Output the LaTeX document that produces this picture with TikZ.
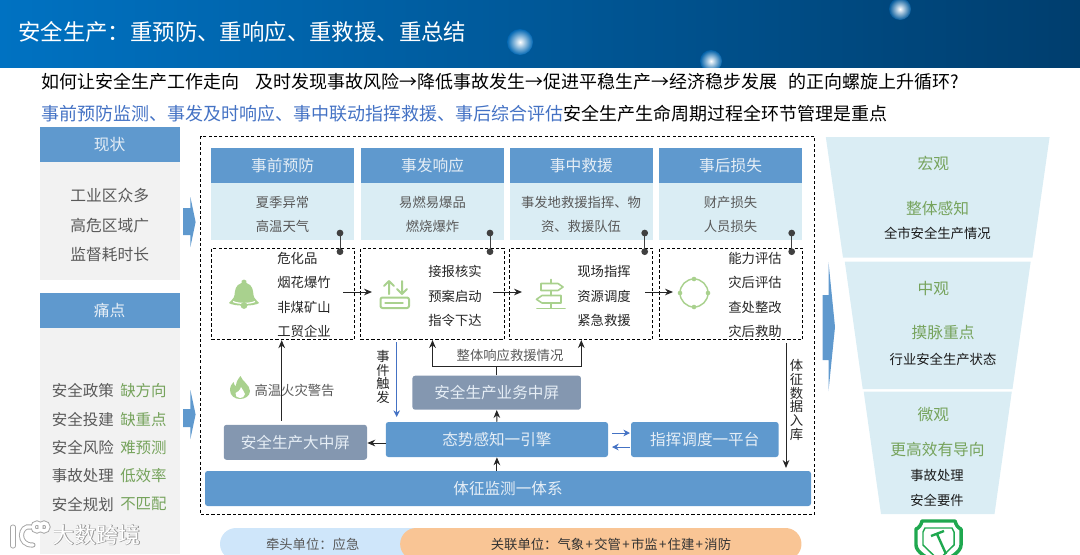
\documentclass[tikz,border=0pt]{standalone}
\usepackage{fontspec}
\setmainfont{Noto Sans CJK SC}
\newfontfamily\wmbold[FakeBold=2.5]{Noto Sans CJK SC}
\usepackage{xcolor}
\usetikzlibrary{arrows.meta, calc}
\definecolor{hdleft}{HTML}{0072C2}
\definecolor{hdmid}{HTML}{0066B2}
\definecolor{hdright}{HTML}{003E6E}
\definecolor{headblue}{HTML}{5F99CE}
\definecolor{palecyan}{HTML}{DAEDF4}
\definecolor{panelgray}{HTML}{F2F2F2}
\definecolor{screengray}{HTML}{8497B0}
\definecolor{softwhite}{HTML}{E6EEF6}
\definecolor{textgray}{HTML}{595959}
\definecolor{leafgreen}{HTML}{76A35C}
\definecolor{icongreen}{HTML}{A9D18E}
\definecolor{linkblue}{HTML}{4472C4}
\definecolor{pillblue}{HTML}{CFE6FA}
\definecolor{pillorange}{HTML}{F9C595}
\definecolor{shieldgreen}{HTML}{1FA84F}
\newcommand{\widecolon}{\char"FF1A\relax}
\begin{document}
\begin{tikzpicture}[
    x=0.75pt, y=-0.75pt,
    headtitle/.style={anchor=west, inner sep=0pt, text=white, font=\fontsize{16.8}{20}\selectfont},
    leadline/.style={anchor=west, inner sep=0pt, font=\fontsize{13.5}{16}\selectfont},
    panelhead/.style={rectangle, fill=headblue, inner sep=0pt, minimum width=105.2pt, minimum height=26.25pt, text=softwhite, font=\fontsize{11.8}{14}\selectfont},
    panelbody/.style={rectangle, fill=panelgray, inner sep=0pt, minimum width=105.2pt},
    colhead/.style={rectangle, fill=headblue, inner sep=0pt, minimum width=107.6pt, minimum height=26pt, text=softwhite, font=\fontsize{11.8}{14}\selectfont},
    colbody/.style={rectangle, fill=palecyan, inner sep=0pt, minimum width=107.6pt, minimum height=43pt},
    dashbox/.style={rectangle, draw, dashed, line width=0.75pt, dash pattern=on 2.4pt off 1.6pt, inner sep=0pt, minimum width=107.6pt, minimum height=68.5pt},
    screenbox/.style={rectangle, rounded corners=2pt, inner sep=0pt, minimum height=26.25pt, text=softwhite, font=\fontsize{11.7}{14}\selectfont},
    linetext/.style={inner sep=0pt, align=center, text=textgray, font=\fontsize{10}{18.5}\selectfont},
    steptext/.style={inner sep=0pt, align=left, text=black!85, font=\fontsize{10}{18.4}\selectfont},
    upright/.style={inner sep=0pt, align=center, text=black!85, font=\fontsize{10}{10.4}\selectfont},
    smalltext/.style={inner sep=0pt, text=textgray, font=\fontsize{10}{12}\selectfont},
    plaintext/.style={inner sep=0pt, text=black!90, font=\fontsize{10}{18.7}\selectfont, align=center},
    greentext/.style={inner sep=0pt, text=leafgreen, font=\fontsize{11.8}{14}\selectfont},
    graytext/.style={inner sep=0pt, align=center, text=textgray, font=\fontsize{11.8}{21.8}\selectfont},
    paintext/.style={inner sep=0pt, anchor=west, align=left, font=\fontsize{11.6}{21.2}\selectfont},
    arrow/.style={-{Stealth[length=6pt, width=5pt]}, line width=0.75pt, black!85},
    bluearrow/.style={-{Stealth[length=5pt, width=5pt]}, line width=0.75pt, linkblue},
    pinline/.style={{Circle[length=5pt]}-{Circle[length=5pt]}, line width=0.75pt, black!75},
    iconline/.style={draw=icongreen, line width=1.5pt, line cap=round, line join=round},
    logoback/.style={draw=gray!70, line width=3.8pt, line cap=round},
    logofront/.style={draw=white, line width=2.4pt, line cap=round},
]
\useasboundingbox (0,0) rectangle (1080,554);

\begin{scope}
\clip (0,0) rectangle (1080,67);
\shade[left color=hdleft, middle color=hdmid, right color=hdright] (0,0) rectangle (1080,67);
\shade[inner color=white, outer color=hdmid] (520,42) circle (13);
\shade[inner color=white, outer color=hdmid!85!hdright] (711,61) circle (11);
\shade[inner color=white, outer color=hdmid!65!hdright] (900,9) circle (11);
\end{scope}
\node[headtitle] (head) at (18,32) {安全生产\widecolon 重预防、重响应、重救援、重总结};
\node[leadline] (quest) at (41.3,82) {如何让安全生产工作走向\hspace{12pt}及时发现事故风险→降低事故发生→促进平稳生产→经济稳步发展\hspace{8pt}的正向螺旋上升循环?};
\node[leadline] (focus) at (41.3,114) {\textcolor{linkblue}{事前预防监测、事发及时响应、事中联动指挥救援、事后综合评估}安全生产生命周期过程全环节管理是重点};

\node[panelhead] (now) at (109.7,144.5) {现状};
\node[panelbody, minimum height=88.5pt] (nowbody) at (109.7,221) {};
\node[graytext] (nowtext) at (109.7,225) {工业区众多\\高危区域广\\监督耗时长};
\node[panelhead] (ache) at (109.7,310.5) {痛点};
\node[panelbody, minimum height=169.5pt] (achebody) at (109.7,441) {};
\node[paintext, text=textgray] (achel) at (51.6,447.5) {安全政策\\安全投建\\安全风险\\事故处理\\安全规划};
\node[paintext, text=leafgreen] (acher) at (120,447.5) {缺方向\\缺重点\\难预测\\低效率\\不匹配};

\fill[headblue] (183,208) -- (190.4,208) -- (190.4,197) -- (195.6,222) -- (190.4,247) -- (190.4,235) -- (183,235) -- cycle;
\fill[headblue] (183,409) -- (190.4,409) -- (190.4,390) -- (195.6,414.5) -- (190.4,439) -- (190.4,427) -- (183,427) -- cycle;
\fill[headblue] (822.5,295) -- (828.5,295) -- (828.5,262) -- (835,327) -- (828.5,391) -- (828.5,360) -- (822.5,360) -- cycle;

\node[rectangle, draw, dashed, line width=0.75pt, dash pattern=on 2.4pt off 1.6pt, inner sep=0pt, minimum width=460.5pt, minimum height=283.2pt] (outer) at (507.8,325.3) {};

\node[colhead] (pre) at (282.7,165.3) {事前预防};
\node[colhead] (fire) at (432.7,165.3) {事发响应};
\node[colhead] (aid) at (581.3,165.3) {事中救援};
\node[colhead] (loss) at (730.7,165.3) {事后损失};
\node[colbody] (prebody) at (282.7,211.3) {};
\node[colbody] (firebody) at (432.7,211.3) {};
\node[colbody] (aidbody) at (581.3,211.3) {};
\node[colbody] (lossbody) at (730.7,211.3) {};
\node[linetext] (pretext) at (282.5,214.4) {夏季异常\\高温天气};
\node[linetext] (firetext) at (432.5,214.4) {易燃易爆品\\燃烧爆炸};
\node[linetext] (aidtext) at (581,214.4) {事发地救援指挥、物\\资、救援队伍};
\node[linetext] (losstext) at (730.5,214.4) {财产损失\\人员损失};

\node[dashbox] (step1) at (283.2,294) {};
\node[dashbox] (step2) at (432.5,294) {};
\node[dashbox] (step3) at (581,294) {};
\node[dashbox] (step4) at (731.2,294) {};
\node[steptext] (step1text) at (304,295) {危化品\\烟花爆竹\\非煤矿山\\工贸企业};
\node[steptext] (step2text) at (455,296) {接报核实\\预案启动\\指令下达};
\node[steptext] (step3text) at (604,296) {现场指挥\\资源调度\\紧急救援};
\node[steptext] (step4text) at (755,295) {能力评估\\灾后评估\\查处整改\\灾后救助};

\coordinate (pin1a) at (340,229.7);
\coordinate (pin1b) at (340,255);
\coordinate (pin2a) at (490,229.7);
\coordinate (pin2b) at (490,255);
\coordinate (pin3a) at (644.7,229.7);
\coordinate (pin3b) at (644.7,255);
\coordinate (pin4a) at (791.7,229.7);
\coordinate (pin4b) at (791.7,255);
\draw[pinline] (pin1a) -- (pin1b);
\draw[pinline] (pin2a) -- (pin2b);
\draw[pinline] (pin3a) -- (pin3b);
\draw[pinline] (pin4a) -- (pin4b);

\coordinate (go1a) at (343,292);
\coordinate (go1b) at (372,292);
\coordinate (go2a) at (493,292);
\coordinate (go2b) at (522,292);
\coordinate (go3a) at (645,292);
\coordinate (go3b) at (673,292);
\draw[arrow] (go1a) -- (go1b);
\draw[arrow] (go2a) -- (go2b);
\draw[arrow] (go3a) -- (go3b);

\fill[icongreen] (244,279.5) .. controls (241.5,279.5) and (241,281.5) .. (241.5,283) .. controls (235,285) and (235,291) .. (234.5,295) .. controls (234,299) and (231,300) .. (229,303) .. controls (233,306.5) and (255,306.5) .. (259,303) .. controls (257,300) and (254,299) .. (253.5,295) .. controls (253,291) and (253,285) .. (246.5,283) .. controls (247,281.5) and (246.5,279.5) .. (244,279.5) -- cycle;
\draw[white, line width=0.9pt] (233,301.5) .. controls (238,304) and (250,304) .. (255,301.5);
\fill[icongreen] (244,305.5) circle (3.4);

\draw[iconline, rounded corners=1.5pt] (380.5,297.5) rectangle (409,308);
\draw[iconline, line width=1pt] (385,303) -- (403,303);
\draw[iconline] (389,294) -- (389,281) (384,286) -- (389,281) -- (394,286);
\draw[iconline] (402,281) -- (402,294) (397,289) -- (402,294) -- (407,289);

\draw[iconline, line width=1.2pt] (551,279.5) -- (551,283.5) (551,290.5) -- (551,295.5) (551,303) -- (551,308) (537,308.5) -- (565,308.5);
\draw[iconline, line width=1.2pt] (541,283.5) -- (558,283.5) -- (563,287) -- (558,290.5) -- (541,290.5) -- cycle;
\draw[iconline, line width=1.2pt] (561,295.5) -- (542,295.5) -- (536.5,299.3) -- (542,303) -- (561,303) -- cycle;

\draw[iconline, line width=1.1pt] (694,293) circle (14);
\fill[icongreen] (708,293) circle (2.3);
\fill[icongreen] (680,293) circle (2.3);
\fill[icongreen] (694,279) circle (2.3);
\fill[icongreen] (694,307) circle (2.3);

\fill[icongreen] (240.5,376) .. controls (242,381) and (250,385) .. (250,391) .. controls (250,396) and (245,399) .. (240,399) .. controls (235,399) and (230,396) .. (230,390) .. controls (230,386) and (232,384) .. (233.5,382) .. controls (234,385) and (235,386) .. (236,386) .. controls (236,382) and (238,379) .. (240.5,376) -- cycle;
\fill[white] (241,387) .. controls (241.5,390) and (245,391) .. (245,394) .. controls (245,397) and (242,398) .. (240,398) .. controls (237,398) and (235,396) .. (235.5,393) .. controls (237,392) and (240,391) .. (241,387) -- cycle;
\node[smalltext, anchor=center] (alarm) at (294.5,390) {高温火灾警告};

\node[screenbox, fill=screengray, minimum width=107.4pt] (bigscreen) at (295.4,442.3) {安全生产大中屏};
\node[screenbox, fill=screengray, minimum width=126.4pt, minimum height=25.5pt] (midscreen) at (496.7,392.7) {安全生产业务中屏};
\node[screenbox, fill=headblue, minimum width=166.7pt] (engine) at (496.9,439.5) {态势感知一引擎};
\node[screenbox, fill=headblue, minimum width=110.7pt] (command) at (704.8,439.5) {指挥调度一平台};
\node[screenbox, fill=headblue, minimum width=454.5pt] (vital) at (508,488.5) {体征监测一体系};

\coordinate (alarmfoot) at (281.7,420.7);
\draw[arrow] (alarmfoot) -- (alarmfoot |- step1.south);
\draw[arrow] (engine.west |- 0,443) -- (bigscreen.east |- 0,443);
\draw[arrow] (vital.north -| engine) -- (engine.south);
\draw[arrow] (engine.north) -- (midscreen.south);
\coordinate (branch) at (496.7,366.7);
\coordinate (tipleft) at (432.5,340);
\coordinate (tipright) at (581.3,340);
\draw[line width=0.75pt, black!85] (midscreen.north) -- (branch);
\draw[arrow] (branch) -| (tipleft);
\draw[arrow] (branch) -| (tipright);
\node[smalltext, anchor=center] (overall) at (510,355.7) {整体响应救援情况};

\coordinate (trigtop) at (396.7,342);
\coordinate (trigfoot) at (396.7,417);
\draw[bluearrow] (trigtop) -- (trigfoot);
\node[upright] (trigger) at (383,377) {事\\件\\触\\发};

\coordinate (dbtop) at (786,343);
\coordinate (dbfoot) at (786,468);
\draw[arrow] (dbtop) -- (dbfoot);
\node[upright] (store) at (796.5,400) {体\\征\\数\\据\\入\\库};

\coordinate (cmda) at (612,433);
\coordinate (cmdb) at (630,433);
\coordinate (cmdc) at (630,447);
\coordinate (cmdd) at (612,447);
\draw[bluearrow] (cmda) -- (cmdb);
\draw[bluearrow] (cmdc) -- (cmdd);

\fill[palecyan] (825.8,137) -- (1049.6,137) -- (1032.4,257.7) -- (843,257.7) -- cycle;
\fill[palecyan] (844.8,261.7) -- (1030.7,261.7) -- (1012.5,389) -- (862.7,389) -- cycle;
\fill[palecyan] (863.7,391.7) -- (1011.8,391.7) -- (994.5,514) -- (881,514) -- cycle;
\node[greentext] (macro) at (933.4,163) {宏观};
\node[greentext] (macrokey) at (937.7,208) {整体感知};
\node[plaintext] (macrotext) at (937.4,233) {全市安全生产情况};
\node[greentext] (meso) at (933.4,289) {中观};
\node[greentext] (mesokey) at (943,333) {摸脉重点};
\node[plaintext] (mesotext) at (943,359) {行业安全生产状态};
\node[greentext] (micro) at (933.4,415) {微观};
\node[greentext] (microkey) at (937.5,450) {更高效有导向};
\node[plaintext] (microtext) at (937,488) {事故处理\\安全要件};

\node[rectangle, rounded corners=12pt, fill=pillblue, inner sep=0pt, minimum width=180pt, minimum height=24pt] (leadpill) at (340,544) {};
\node[rectangle, rounded corners=12pt, fill=pillorange, inner sep=0pt, minimum width=301pt, minimum height=24pt] (linkpill) at (600.8,544) {};
\node[smalltext] (leadtext) at (312.7,544) {牵头单位\widecolon 应急};
\node[smalltext, text=black!80] (linktext) at (611,544) {关联单位\widecolon 气象\kern1pt+\kern1pt交管\kern1pt+\kern1pt市监\kern1pt+\kern1pt住建\kern1pt+\kern1pt消防};

\draw[draw=shieldgreen, line width=2.6pt, line join=round] (922,521) -- (955,521) .. controls (956,525) and (958,528) .. (961,529) -- (961,545) .. controls (961,552) and (950,558) .. (938.5,564) .. controls (927,558) and (916,552) .. (916,545) -- (916,529) .. controls (919,528) and (921,525) .. (922,521) -- cycle;
\draw[draw=shieldgreen, line width=1.1pt] (925,528) -- (952,528) -- (954,532) -- (954,545) -- (938.5,560) -- (923,545) -- (923,532) -- cycle;
\draw[draw=shieldgreen, line width=1.8pt] (931,536) -- (944,531) (937,534) -- (946,554);

\draw[logoback] (13,527) -- (13,546);
\draw[logoback] (31,527) .. controls (19,524) and (17,546) .. (33,545);
\draw[logoback] (37,527) circle (4);
\draw[logoback] (44,527) circle (4);
\draw[logofront] (13,527) -- (13,546);
\draw[logofront] (31,527) .. controls (19,524) and (17,546) .. (33,545);
\draw[logofront] (37,527) circle (4);
\draw[logofront] (44,527) circle (4);
\node[inner sep=0pt, text=gray!80, font=\wmbold\fontsize{16.5}{18}\selectfont] (wmback) at (96.7,534.7) {大数跨境};
\node[inner sep=0pt, text=white, font=\fontsize{16.5}{18}\selectfont] (wmtext) at (96.7,534.7) {大数跨境};

\end{tikzpicture}
\end{document}
